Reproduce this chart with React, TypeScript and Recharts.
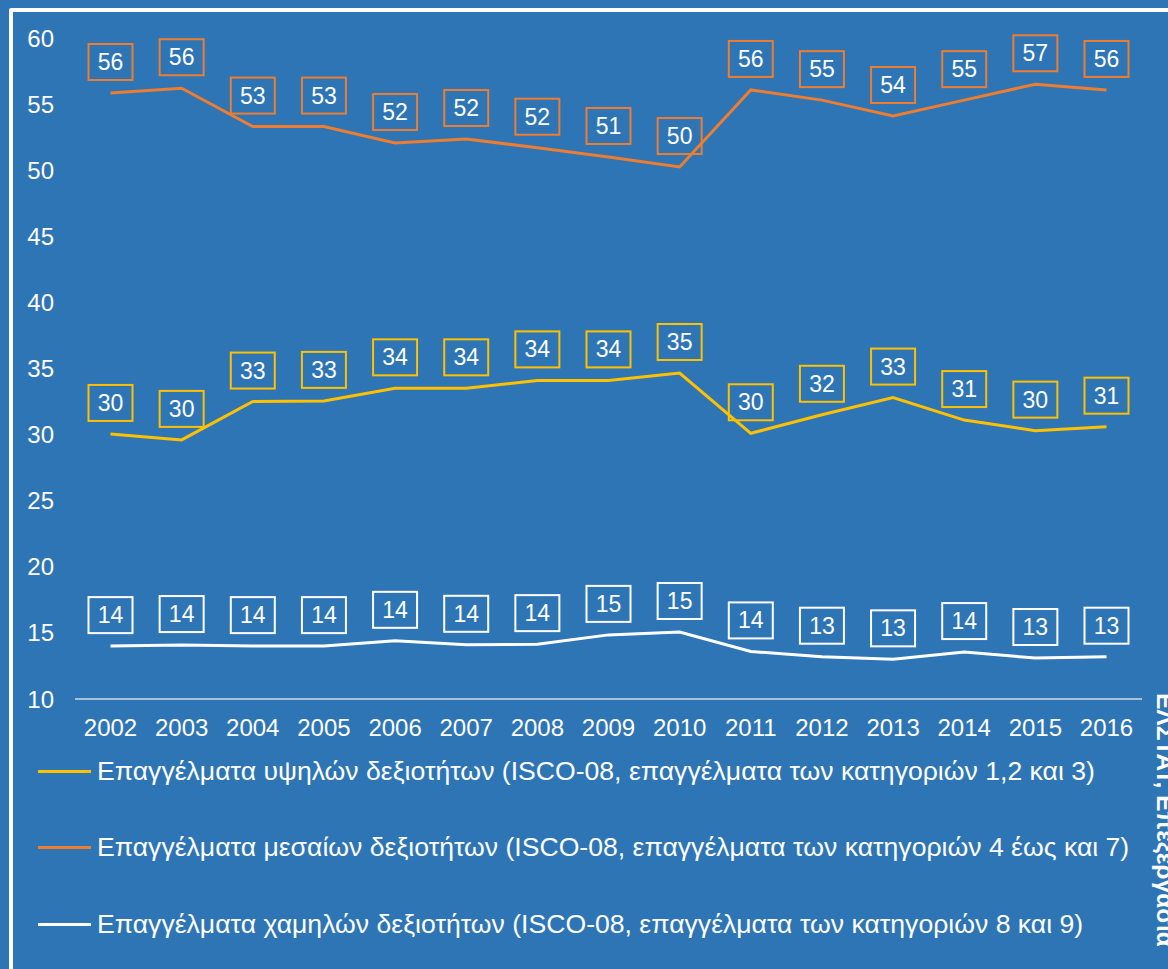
import React from "react";
import { LineChart, Line, XAxis, YAxis, LabelList } from "recharts";

const years = ["2002","2003","2004","2005","2006","2007","2008","2009","2010","2011","2012","2013","2014","2015","2016"];
const highSkill = [30.05, 29.6, 32.5, 32.55, 33.5, 33.5, 34.1, 34.1, 34.66, 30.1, 31.5, 32.8, 31.1, 30.3, 30.6];
const midSkill = [55.84, 56.2, 53.3, 53.3, 52.06, 52.36, 51.7, 51.0, 50.24, 56.07, 55.3, 54.1, 55.3, 56.5, 56.07];
const lowSkill = [14.0, 14.08, 14.0, 14.0, 14.4, 14.1, 14.15, 14.85, 15.07, 13.6, 13.2, 13.0, 13.55, 13.1, 13.2];
const yTicks = [10, 15, 20, 25, 30, 35, 40, 45, 50, 55, 60];

const seriesNames = [
  "Επαγγέλματα υψηλών δεξιοτήτων (ISCO-08, επαγγέλματα των κατηγοριών 1,2 και 3)",
  "Επαγγέλματα μεσαίων δεξιοτήτων (ISCO-08, επαγγέλματα των κατηγοριών 4 έως και 7)",
  "Επαγγέλματα χαμηλών δεξιοτήτων (ISCO-08, επαγγέλματα των κατηγοριών 8 και 9)",
];
const seriesKeys = ["high", "mid", "low"];
const seriesColors = ["#FFC000", "#ED7D31", "#FFFFFF"];
const sourceText = "ΕΛΣΤΑΤ, Επεξεργασία";

const data = years.map((y, i) => ({ year: y, high: highSkill[i], mid: midSkill[i], low: lowSkill[i] }));

const BG = "#2E75B6";
const FONT = "'Liberation Sans', Arial, sans-serif";

const makeLabel = (color: string) => (props: any) => {
  const { x, y, value } = props;
  const cy = y - 31;
  return (
    <g>
      <rect x={x - 22} y={cy - 18} width={44} height={36} fill="none" stroke={color} strokeWidth={2} />
      <text x={x} y={cy} textAnchor="middle" dominantBaseline="central" fill="#FFFFFF" fontSize={23} fontFamily={FONT}>
        {Math.round(value)}
      </text>
    </g>
  );
};

export default function App() {
  return (
    <div style={{ position: "relative", width: 1168, height: 969, background: BG, overflow: "hidden", fontFamily: FONT }}>
      <style>{`body{margin:0}`}</style>
      <div style={{ position: "absolute", left: 9, top: 8, width: 1300, height: 1100, borderLeft: "4px solid #FFFFFF", borderTop: "4px solid #FFFFFF", borderTopLeftRadius: 3 }} />
      <div style={{ position: "absolute", left: 0, top: 0 }}>
        <LineChart width={1168} height={740} data={data} margin={{ top: 38, right: 26, left: 0, bottom: 0 }}>
          <XAxis
            dataKey="year"
            padding={{ left: 35.5, right: 35.5 }}
            tickLine={false}
            tickSize={0}
            tickMargin={20}
            height={41}
            axisLine={{ stroke: "#D0D8E4", strokeWidth: 1.5 }}
            tick={{ fill: "#FFFFFF", fontSize: 24, fontFamily: FONT }}
            interval={0}
          />
          <YAxis
            domain={[10, 60]}
            ticks={yTicks}
            width={75}
            axisLine={false}
            tickLine={false}
            tickSize={0}
            tickMargin={21}
            tick={{ fill: "#FFFFFF", fontSize: 24, fontFamily: FONT }}
            interval={0}
          />
          {seriesKeys.map((k, i) => (
            <Line key={k} type="linear" dataKey={k} stroke={seriesColors[i]} strokeWidth={3} dot={false} isAnimationActive={false}>
              <LabelList dataKey={k} content={makeLabel(seriesColors[i])} />
            </Line>
          ))}
        </LineChart>
      </div>
      {seriesNames.map((n, i) => (
        <div key={n} style={{ position: "absolute", left: 38, top: 771 + i * 76.5 - 16, height: 32, display: "flex", alignItems: "center", whiteSpace: "nowrap" }}>
          <div style={{ width: 53, height: 3, background: seriesColors[i], marginRight: 6 }} />
          <span style={{ color: "#FFFFFF", fontSize: 26.6, fontFamily: FONT }}>{n}</span>
        </div>
      ))}
      <svg style={{ position: "absolute", left: 0, top: 0 }} width={1168} height={969}>
        <text x={1157} y={693} transform="rotate(90 1157 693)" fill="#FFFFFF" fontSize={24.5} fontWeight="bold" fontFamily={FONT}>
          {sourceText}
        </text>
      </svg>
    </div>
  );
}
